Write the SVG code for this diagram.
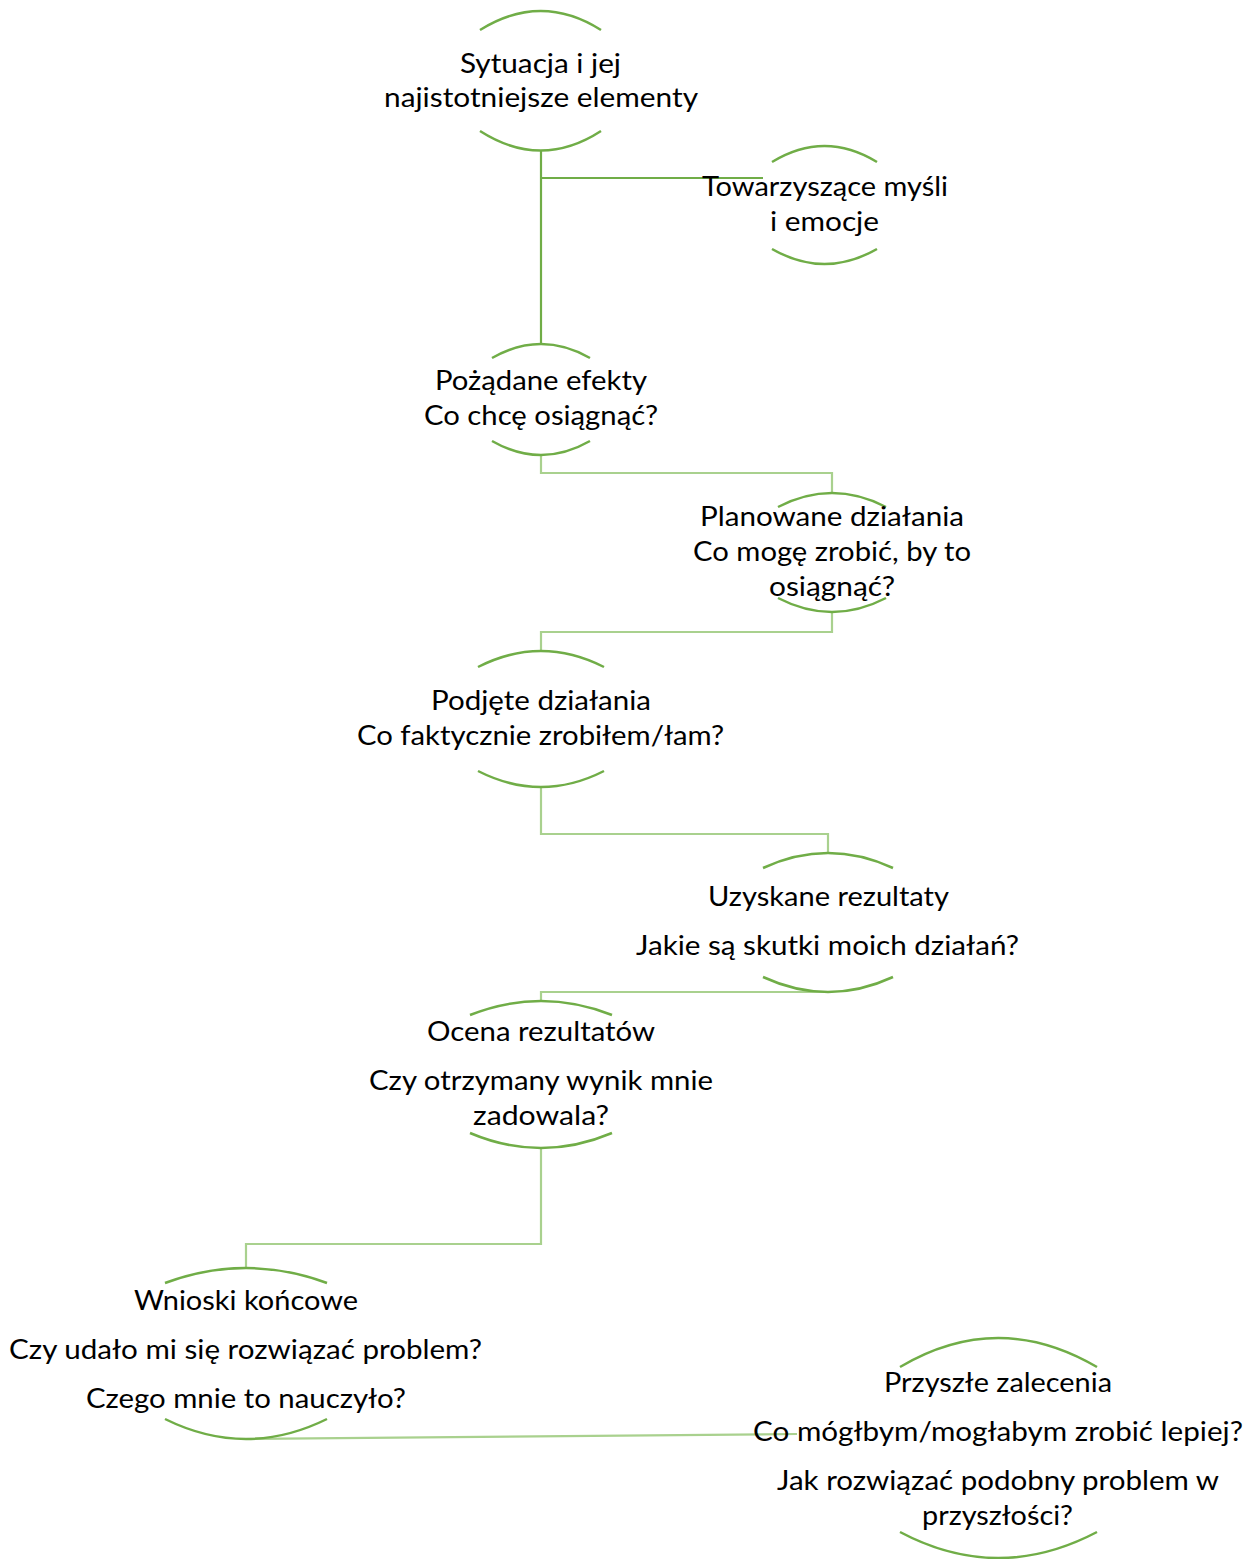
<svg xmlns="http://www.w3.org/2000/svg" width="1245" height="1559" viewBox="0 0 1245 1559">
<style>
.arc{fill:none;stroke:#70AD47;stroke-width:2.5}
.c1{fill:none;stroke:#70AD47;stroke-width:2.2}
.c2{fill:none;stroke:#A9D18E;stroke-width:2.2}
text{font-family:Lato,"Open Sans","Liberation Sans",sans-serif;font-size:27px;fill:#000;text-anchor:middle}
</style>
<rect width="1245" height="1559" fill="#fff"/>
<g id="connectors">
<path class="c1" d="M541 151V344M541 178H763"/>
<path class="c2" d="M541 455V473H832V493"/>
<path class="c2" d="M832 612V632H541V651"/>
<path class="c2" d="M541 787V834H828V853"/>
<path class="c2" d="M828 992H541V1001"/>
<path class="c2" d="M541 1148V1244H246V1268"/>
<path class="c2" d="M246 1439L797 1434"/>
</g>
<g id="n1">
<path class="arc" d="M480 30Q541 -8 601 30M480 131Q541 170 601 131"/>
<text x="540.5" y="73" textLength="161" lengthAdjust="spacingAndGlyphs">Sytuacja i jej</text>
<text x="541" y="107" textLength="314" lengthAdjust="spacingAndGlyphs">najistotniejsze elementy</text>
</g>
<g id="n2">
<path class="arc" d="M772 162Q824.5 130 877 162M772 249Q824.5 279 877 249"/>
<text x="825" y="196" textLength="246" lengthAdjust="spacingAndGlyphs">Towarzyszące myśli</text>
<text x="824.5" y="231" textLength="109" lengthAdjust="spacingAndGlyphs">i emocje</text>
</g>
<g id="n3">
<path class="arc" d="M492 358Q541 330 590 358M492 441Q541 469 590 441"/>
<text x="541" y="390" textLength="212" lengthAdjust="spacingAndGlyphs">Pożądane efekty</text>
<text x="541" y="425" textLength="234" lengthAdjust="spacingAndGlyphs">Co chcę osiągnąć?</text>
</g>
<g id="n4">
<path class="arc" d="M778 507Q832 479 886 507M778 598Q832 626 886 598"/>
<text x="832" y="526" textLength="264" lengthAdjust="spacingAndGlyphs">Planowane działania</text>
<text x="832" y="561" textLength="278" lengthAdjust="spacingAndGlyphs">Co mogę zrobić, by to</text>
<text x="832" y="596" textLength="126" lengthAdjust="spacingAndGlyphs">osiągnąć?</text>
</g>
<g id="n5">
<path class="arc" d="M478 667Q541 635 604 667M478 771Q541 803 604 771"/>
<text x="541" y="710" textLength="220" lengthAdjust="spacingAndGlyphs">Podjęte działania</text>
<text x="540.5" y="745" textLength="367" lengthAdjust="spacingAndGlyphs">Co faktycznie zrobiłem/łam?</text>
</g>
<g id="n6">
<path class="arc" d="M763 868Q828 838 893 868M763 977Q828 1007 893 977"/>
<text x="828.5" y="906" textLength="241" lengthAdjust="spacingAndGlyphs">Uzyskane rezultaty</text>
<text x="827.5" y="955" textLength="383" lengthAdjust="spacingAndGlyphs">Jakie są skutki moich działań?</text>
</g>
<g id="n7">
<path class="arc" d="M470 1015Q541 987 612 1015M470 1133Q541 1163 612 1133"/>
<text x="541" y="1041" textLength="228" lengthAdjust="spacingAndGlyphs">Ocena rezultatów</text>
<text x="541" y="1090" textLength="344" lengthAdjust="spacingAndGlyphs">Czy otrzymany wynik mnie</text>
<text x="541" y="1125" textLength="136" lengthAdjust="spacingAndGlyphs">zadowala?</text>
</g>
<g id="n8">
<path class="arc" d="M165 1283Q246 1253 327 1283M165 1419Q246 1459 327 1419"/>
<text x="246" y="1310" textLength="224" lengthAdjust="spacingAndGlyphs">Wnioski końcowe</text>
<text x="245.5" y="1359" textLength="473" lengthAdjust="spacingAndGlyphs">Czy udało mi się rozwiązać problem?</text>
<text x="246" y="1408" textLength="320" lengthAdjust="spacingAndGlyphs">Czego mnie to nauczyło?</text>
</g>
<g id="n9">
<path class="arc" d="M900 1367Q998 1309 1097 1367M900 1532Q998 1584 1097 1532"/>
<text x="998" y="1392" textLength="228" lengthAdjust="spacingAndGlyphs">Przyszłe zalecenia</text>
<text x="998" y="1441" textLength="490" lengthAdjust="spacingAndGlyphs">Co mógłbym/mogłabym zrobić lepiej?</text>
<text x="998" y="1490" textLength="442" lengthAdjust="spacingAndGlyphs">Jak rozwiązać podobny problem w</text>
<text x="997.5" y="1525" textLength="151" lengthAdjust="spacingAndGlyphs">przyszłości?</text>
</g>
</svg>
